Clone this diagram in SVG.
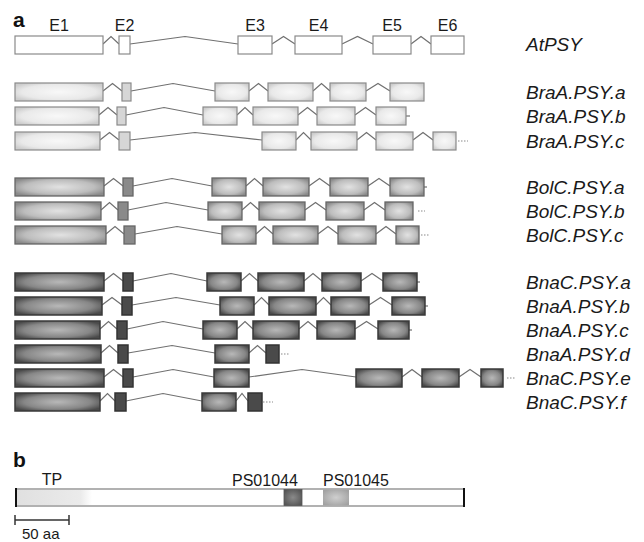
<svg xmlns="http://www.w3.org/2000/svg" width="644" height="542" viewBox="0 0 644 542">
<defs>
<radialGradient id="gLight" cx="50%" cy="50%" r="60%"><stop offset="0" stop-color="#f8f8f8"/><stop offset="0.7" stop-color="#e9e9e9"/><stop offset="1" stop-color="#cdcdcd"/></radialGradient>
<radialGradient id="gMed" cx="50%" cy="50%" r="60%"><stop offset="0" stop-color="#e2e2e2"/><stop offset="0.65" stop-color="#bdbdbd"/><stop offset="1" stop-color="#8a8a8a"/></radialGradient>
<radialGradient id="gDark" cx="50%" cy="50%" r="60%"><stop offset="0" stop-color="#b8b8b8"/><stop offset="0.65" stop-color="#878787"/><stop offset="1" stop-color="#4a4a4a"/></radialGradient>
<radialGradient id="gPS44" cx="50%" cy="50%" r="60%"><stop offset="0" stop-color="#8a8a8a"/><stop offset="1" stop-color="#555"/></radialGradient>
<radialGradient id="gPS45" cx="50%" cy="50%" r="60%"><stop offset="0" stop-color="#cfcfcf"/><stop offset="1" stop-color="#a2a2a2"/></radialGradient>
<linearGradient id="gTP" x1="0" y1="0" x2="1" y2="0"><stop offset="0" stop-color="#e0e0e0"/><stop offset="0.85" stop-color="#ebebeb"/><stop offset="1" stop-color="#ffffff"/></linearGradient>
</defs>
<style>
.ew{fill:#fff;stroke:#8a8a8a;stroke-width:1.2}
.el{fill:url(#gLight);stroke:#8a8a8a;stroke-width:1.2}
.el2{fill:#d6d6d6;stroke:#8a8a8a;stroke-width:1.2}
.em{fill:url(#gMed);stroke:#666;stroke-width:1.3}
.em2{fill:#8a8a8a;stroke:#666;stroke-width:1.3}
.ed{fill:url(#gDark);stroke:#3a3a3a;stroke-width:1.5}
.ed2{fill:#4a4a4a;stroke:#333;stroke-width:1.5}
.intr{fill:none;stroke:#707070;stroke-width:1.2}
.tail{fill:none;stroke:#707070;stroke-width:1.2}
.dots{fill:none;stroke:#8a8a8a;stroke-width:1.2;stroke-dasharray:1.5 1.5}
.lbl{font-family:"Liberation Sans",Arial,sans-serif;font-style:italic;font-size:19px;fill:#1a1a1a}
.ex{font-family:"Liberation Sans",Arial,sans-serif;font-size:16px;fill:#1a1a1a;text-anchor:middle}
.pl{font-family:"Liberation Sans",Arial,sans-serif;font-weight:bold;font-size:21px;fill:#111}
.dom{font-family:"Liberation Sans",Arial,sans-serif;font-size:16px;fill:#1a1a1a}
</style>

<text class="pl" x="13" y="27">a</text>
<g id="exon-labels">
<text class="ex" x="59" y="31">E1</text>
<text class="ex" x="124.5" y="31">E2</text>
<text class="ex" x="255" y="31">E3</text>
<text class="ex" x="318.5" y="31">E4</text>
<text class="ex" x="392" y="31">E5</text>
<text class="ex" x="447.5" y="31">E6</text>
</g>

<g id="connectors">
<polyline class="intr" points="103,44 111,36.5 119,44"/>
<polyline class="intr" points="130,44 185,36.5 238,44"/>
<polyline class="intr" points="272,44 283.5,36.5 295,44"/>
<polyline class="intr" points="342,44 357.5,36.5 373,44"/>
<polyline class="intr" points="411,44 421,36.5 431,44"/>

<polyline class="intr" points="103,91 112.5,83.5 122,91"/>
<polyline class="intr" points="131,91 173,83.5 215,91"/>
<polyline class="intr" points="249,91 258.5,83.5 268,91"/>
<polyline class="intr" points="313,91 321.5,83.5 330,91"/>
<polyline class="intr" points="366,91 378,83.5 390,91"/>

<polyline class="intr" points="99,115 108,107.5 117,115"/>
<polyline class="intr" points="126,115 164,107.5 203,115"/>
<polyline class="intr" points="237,115 245,107.5 253,115"/>
<polyline class="intr" points="298,115 307.5,107.5 317,115"/>
<polyline class="intr" points="355,115 365.5,107.5 376,115"/>
<line class="tail" x1="406" y1="116" x2="410" y2="116"/>

<polyline class="intr" points="100,140 109.5,132.5 119,140"/>
<polyline class="intr" points="130,140 195,132.5 262,140"/>
<polyline class="intr" points="296,140 303.5,132.5 311,140"/>
<polyline class="intr" points="357,140 366.5,132.5 376,140"/>
<polyline class="intr" points="413,140 423,132.5 433,140"/>
<line class="dots" x1="458" y1="141" x2="468" y2="141"/>

<polyline class="intr" points="104,186 113.5,178.5 123,186"/>
<polyline class="intr" points="133,186 172,178.5 212,186"/>
<polyline class="intr" points="246,186 254.5,178.5 263,186"/>
<polyline class="intr" points="309,186 319.5,178.5 330,186"/>
<polyline class="intr" points="368,186 379,178.5 390,186"/>
<line class="tail" x1="424" y1="187" x2="427" y2="187"/>

<polyline class="intr" points="101,210 109.5,202.5 118,210"/>
<polyline class="intr" points="128,210 166,202.5 208,210"/>
<polyline class="intr" points="242,210 250.5,202.5 259,210"/>
<polyline class="intr" points="305,210 315.5,202.5 326,210"/>
<polyline class="intr" points="364,210 374.5,202.5 385,210"/>
<line class="dots" x1="418" y1="211" x2="425" y2="211"/>

<polyline class="intr" points="106,234 115,226.5 124,234"/>
<polyline class="intr" points="135,234 177,226.5 222,234"/>
<polyline class="intr" points="256,234 264.5,226.5 273,234"/>
<polyline class="intr" points="318,234 328,226.5 338,234"/>
<polyline class="intr" points="376,234 386,226.5 396,234"/>
<line class="dots" x1="421" y1="235" x2="429" y2="235"/>

<polyline class="intr" points="104,281 113.5,273.5 123,281"/>
<polyline class="intr" points="133,281 171,273.5 207,281"/>
<polyline class="intr" points="241,281 249.5,273.5 258,281"/>
<polyline class="intr" points="304,281 313,273.5 322,281"/>
<polyline class="intr" points="361,281 372,273.5 383,281"/>
<line class="tail" x1="417" y1="282" x2="420" y2="282"/>

<polyline class="intr" points="102,305 112,297.5 122,305"/>
<polyline class="intr" points="132,305 176,297.5 220,305"/>
<polyline class="intr" points="254,305 261.5,297.5 269,305"/>
<polyline class="intr" points="316,305 323.5,297.5 331,305"/>
<polyline class="intr" points="369,305 380.5,297.5 392,305"/>
<line class="tail" x1="425" y1="306" x2="428" y2="306"/>

<polyline class="intr" points="100,329 108.5,321.5 117,329"/>
<polyline class="intr" points="127,329 163,321.5 203,329"/>
<polyline class="intr" points="237,329 245,321.5 253,329"/>
<polyline class="intr" points="299,329 308,321.5 317,329"/>
<polyline class="intr" points="355,329 366.5,321.5 378,329"/>
<line class="tail" x1="409" y1="330" x2="412" y2="330"/>

<polyline class="intr" points="101,353 109.5,345.5 118,353"/>
<polyline class="intr" points="128,353 172,345.5 215,353"/>
<polyline class="intr" points="249,353 257.5,345.5 266,353"/>
<line class="dots" x1="281" y1="354" x2="290" y2="354"/>

<polyline class="intr" points="104,377 113.5,369.5 123,377"/>
<polyline class="intr" points="133,377 173,369.5 214,377"/>
<polyline class="intr" points="249,377 302,369.5 356,377"/>
<polyline class="intr" points="402,377 412,369.5 422,377"/>
<polyline class="intr" points="459,377 470,369.5 481,377"/>
<line class="dots" x1="507" y1="378" x2="516" y2="378"/>

<polyline class="intr" points="100,401 107.5,393.5 115,401"/>
<polyline class="intr" points="126,401 163,393.5 202,401"/>
<polyline class="intr" points="236,401 242,393.5 248,401"/>
<line class="dots" x1="263" y1="402" x2="273" y2="402"/>
</g>

<g id="AtPSY">
<rect class="ew" x="15" y="36" width="88" height="18"/>
<rect class="ew" x="119" y="36" width="11" height="18"/>
<rect class="ew" x="238" y="36" width="34" height="18"/>
<rect class="ew" x="295" y="36" width="47" height="18"/>
<rect class="ew" x="373" y="36" width="38" height="18"/>
<rect class="ew" x="431" y="36" width="33" height="18"/>
<text class="lbl" x="526" y="51">AtPSY</text>
</g>

<g id="BraA.PSY.a">
<rect class="el" x="15" y="83" width="88" height="18"/>
<rect class="el2" x="122" y="83" width="9" height="18"/>
<rect class="el" x="215" y="83" width="34" height="18"/>
<rect class="el" x="268" y="83" width="45" height="18"/>
<rect class="el" x="330" y="83" width="36" height="18"/>
<rect class="el" x="390" y="83" width="34" height="18"/>
<text class="lbl" x="526" y="99">BraA.PSY.a</text>
</g>

<g id="BraA.PSY.b">
<rect class="el" x="15" y="107" width="84" height="18"/>
<rect class="el2" x="117" y="107" width="9" height="18"/>
<rect class="el" x="203" y="107" width="34" height="18"/>
<rect class="el" x="253" y="107" width="45" height="18"/>
<rect class="el" x="317" y="107" width="38" height="18"/>
<rect class="el" x="376" y="107" width="30" height="18"/>
<text class="lbl" x="526" y="123">BraA.PSY.b</text>
</g>

<g id="BraA.PSY.c">
<rect class="el" x="15" y="132" width="85" height="18"/>
<rect class="el2" x="119" y="132" width="11" height="18"/>
<rect class="el" x="262" y="132" width="34" height="18"/>
<rect class="el" x="311" y="132" width="46" height="18"/>
<rect class="el" x="376" y="132" width="37" height="18"/>
<rect class="el" x="433" y="132" width="23" height="18"/>
<text class="lbl" x="526" y="148">BraA.PSY.c</text>
</g>

<g id="BolC.PSY.a">
<rect class="em" x="15" y="178" width="89" height="18"/>
<rect class="em2" x="123" y="178" width="10" height="18"/>
<rect class="em" x="212" y="178" width="34" height="18"/>
<rect class="em" x="263" y="178" width="46" height="18"/>
<rect class="em" x="330" y="178" width="38" height="18"/>
<rect class="em" x="390" y="178" width="34" height="18"/>
<text class="lbl" x="526" y="194">BolC.PSY.a</text>
</g>

<g id="BolC.PSY.b">
<rect class="em" x="15" y="202" width="86" height="18"/>
<rect class="em2" x="118" y="202" width="10" height="18"/>
<rect class="em" x="208" y="202" width="34" height="18"/>
<rect class="em" x="259" y="202" width="46" height="18"/>
<rect class="em" x="326" y="202" width="38" height="18"/>
<rect class="em" x="385" y="202" width="28" height="18"/>
<text class="lbl" x="526" y="218">BolC.PSY.b</text>
</g>

<g id="BolC.PSY.c">
<rect class="em" x="15" y="226" width="91" height="18"/>
<rect class="em2" x="124" y="226" width="11" height="18"/>
<rect class="em" x="222" y="226" width="34" height="18"/>
<rect class="em" x="273" y="226" width="45" height="18"/>
<rect class="em" x="338" y="226" width="38" height="18"/>
<rect class="em" x="396" y="226" width="23" height="18"/>
<text class="lbl" x="526" y="242">BolC.PSY.c</text>
</g>

<g id="BnaC.PSY.a">
<rect class="ed" x="15" y="273" width="89" height="18"/>
<rect class="ed2" x="123" y="273" width="10" height="18"/>
<rect class="ed" x="207" y="273" width="34" height="18"/>
<rect class="ed" x="258" y="273" width="46" height="18"/>
<rect class="ed" x="322" y="273" width="39" height="18"/>
<rect class="ed" x="383" y="273" width="34" height="18"/>
<text class="lbl" x="526" y="289">BnaC.PSY.a</text>
</g>

<g id="BnaA.PSY.b">
<rect class="ed" x="15" y="297" width="87" height="18"/>
<rect class="ed2" x="122" y="297" width="10" height="18"/>
<rect class="ed" x="220" y="297" width="34" height="18"/>
<rect class="ed" x="269" y="297" width="47" height="18"/>
<rect class="ed" x="331" y="297" width="38" height="18"/>
<rect class="ed" x="392" y="297" width="33" height="18"/>
<text class="lbl" x="526" y="313">BnaA.PSY.b</text>
</g>

<g id="BnaA.PSY.c">
<rect class="ed" x="15" y="321" width="85" height="18"/>
<rect class="ed2" x="117" y="321" width="10" height="18"/>
<rect class="ed" x="203" y="321" width="34" height="18"/>
<rect class="ed" x="253" y="321" width="46" height="18"/>
<rect class="ed" x="317" y="321" width="38" height="18"/>
<rect class="ed" x="378" y="321" width="31" height="18"/>
<text class="lbl" x="526" y="337">BnaA.PSY.c</text>
</g>

<g id="BnaA.PSY.d">
<rect class="ed" x="15" y="345" width="86" height="18"/>
<rect class="ed2" x="118" y="345" width="10" height="18"/>
<rect class="ed" x="215" y="345" width="34" height="18"/>
<rect class="ed2" x="266" y="345" width="13" height="18"/>
<text class="lbl" x="526" y="361">BnaA.PSY.d</text>
</g>

<g id="BnaC.PSY.e">
<rect class="ed" x="15" y="369" width="89" height="18"/>
<rect class="ed2" x="123" y="369" width="10" height="18"/>
<rect class="ed" x="214" y="369" width="35" height="18"/>
<rect class="ed" x="356" y="369" width="46" height="18"/>
<rect class="ed" x="422" y="369" width="37" height="18"/>
<rect class="ed" x="481" y="369" width="22" height="18"/>
<text class="lbl" x="526" y="385">BnaC.PSY.e</text>
</g>

<g id="BnaC.PSY.f">
<rect class="ed" x="15" y="393" width="85" height="18"/>
<rect class="ed2" x="115" y="393" width="11" height="18"/>
<rect class="ed" x="202" y="393" width="34" height="18"/>
<rect class="ed2" x="248" y="393" width="14" height="18"/>
<text class="lbl" x="526" y="409">BnaC.PSY.f</text>
</g>

<text class="pl" x="13" y="467">b</text>
<g id="protein">
<rect x="16" y="489" width="448" height="17" fill="#fff" stroke="#888" stroke-width="1.3"/>
<rect x="17" y="490" width="75" height="15" fill="url(#gTP)"/>
<rect x="284" y="489.5" width="18" height="16" fill="url(#gPS44)" stroke="#555" stroke-width="0.8"/>
<rect x="323" y="489.5" width="26" height="16" fill="url(#gPS45)"/>
<line x1="16" y1="488" x2="16" y2="507" stroke="#111" stroke-width="2"/>
<line x1="464" y1="488" x2="464" y2="507" stroke="#111" stroke-width="2"/>
<text class="dom" x="52" y="485" text-anchor="middle">TP</text>
<text class="dom" x="232" y="486">PS01044</text>
<text class="dom" x="323" y="486">PS01045</text>
</g>

<g id="scalebar">
<line x1="15" y1="520" x2="69" y2="520" stroke="#333" stroke-width="1.5"/>
<line x1="15" y1="515" x2="15" y2="525" stroke="#333" stroke-width="1.5"/>
<line x1="69" y1="515" x2="69" y2="525" stroke="#333" stroke-width="1.5"/>
<text x="22" y="539" font-family="Liberation Sans, Arial, sans-serif" font-size="15" fill="#1a1a1a">50 aa</text>
</g>
</svg>
